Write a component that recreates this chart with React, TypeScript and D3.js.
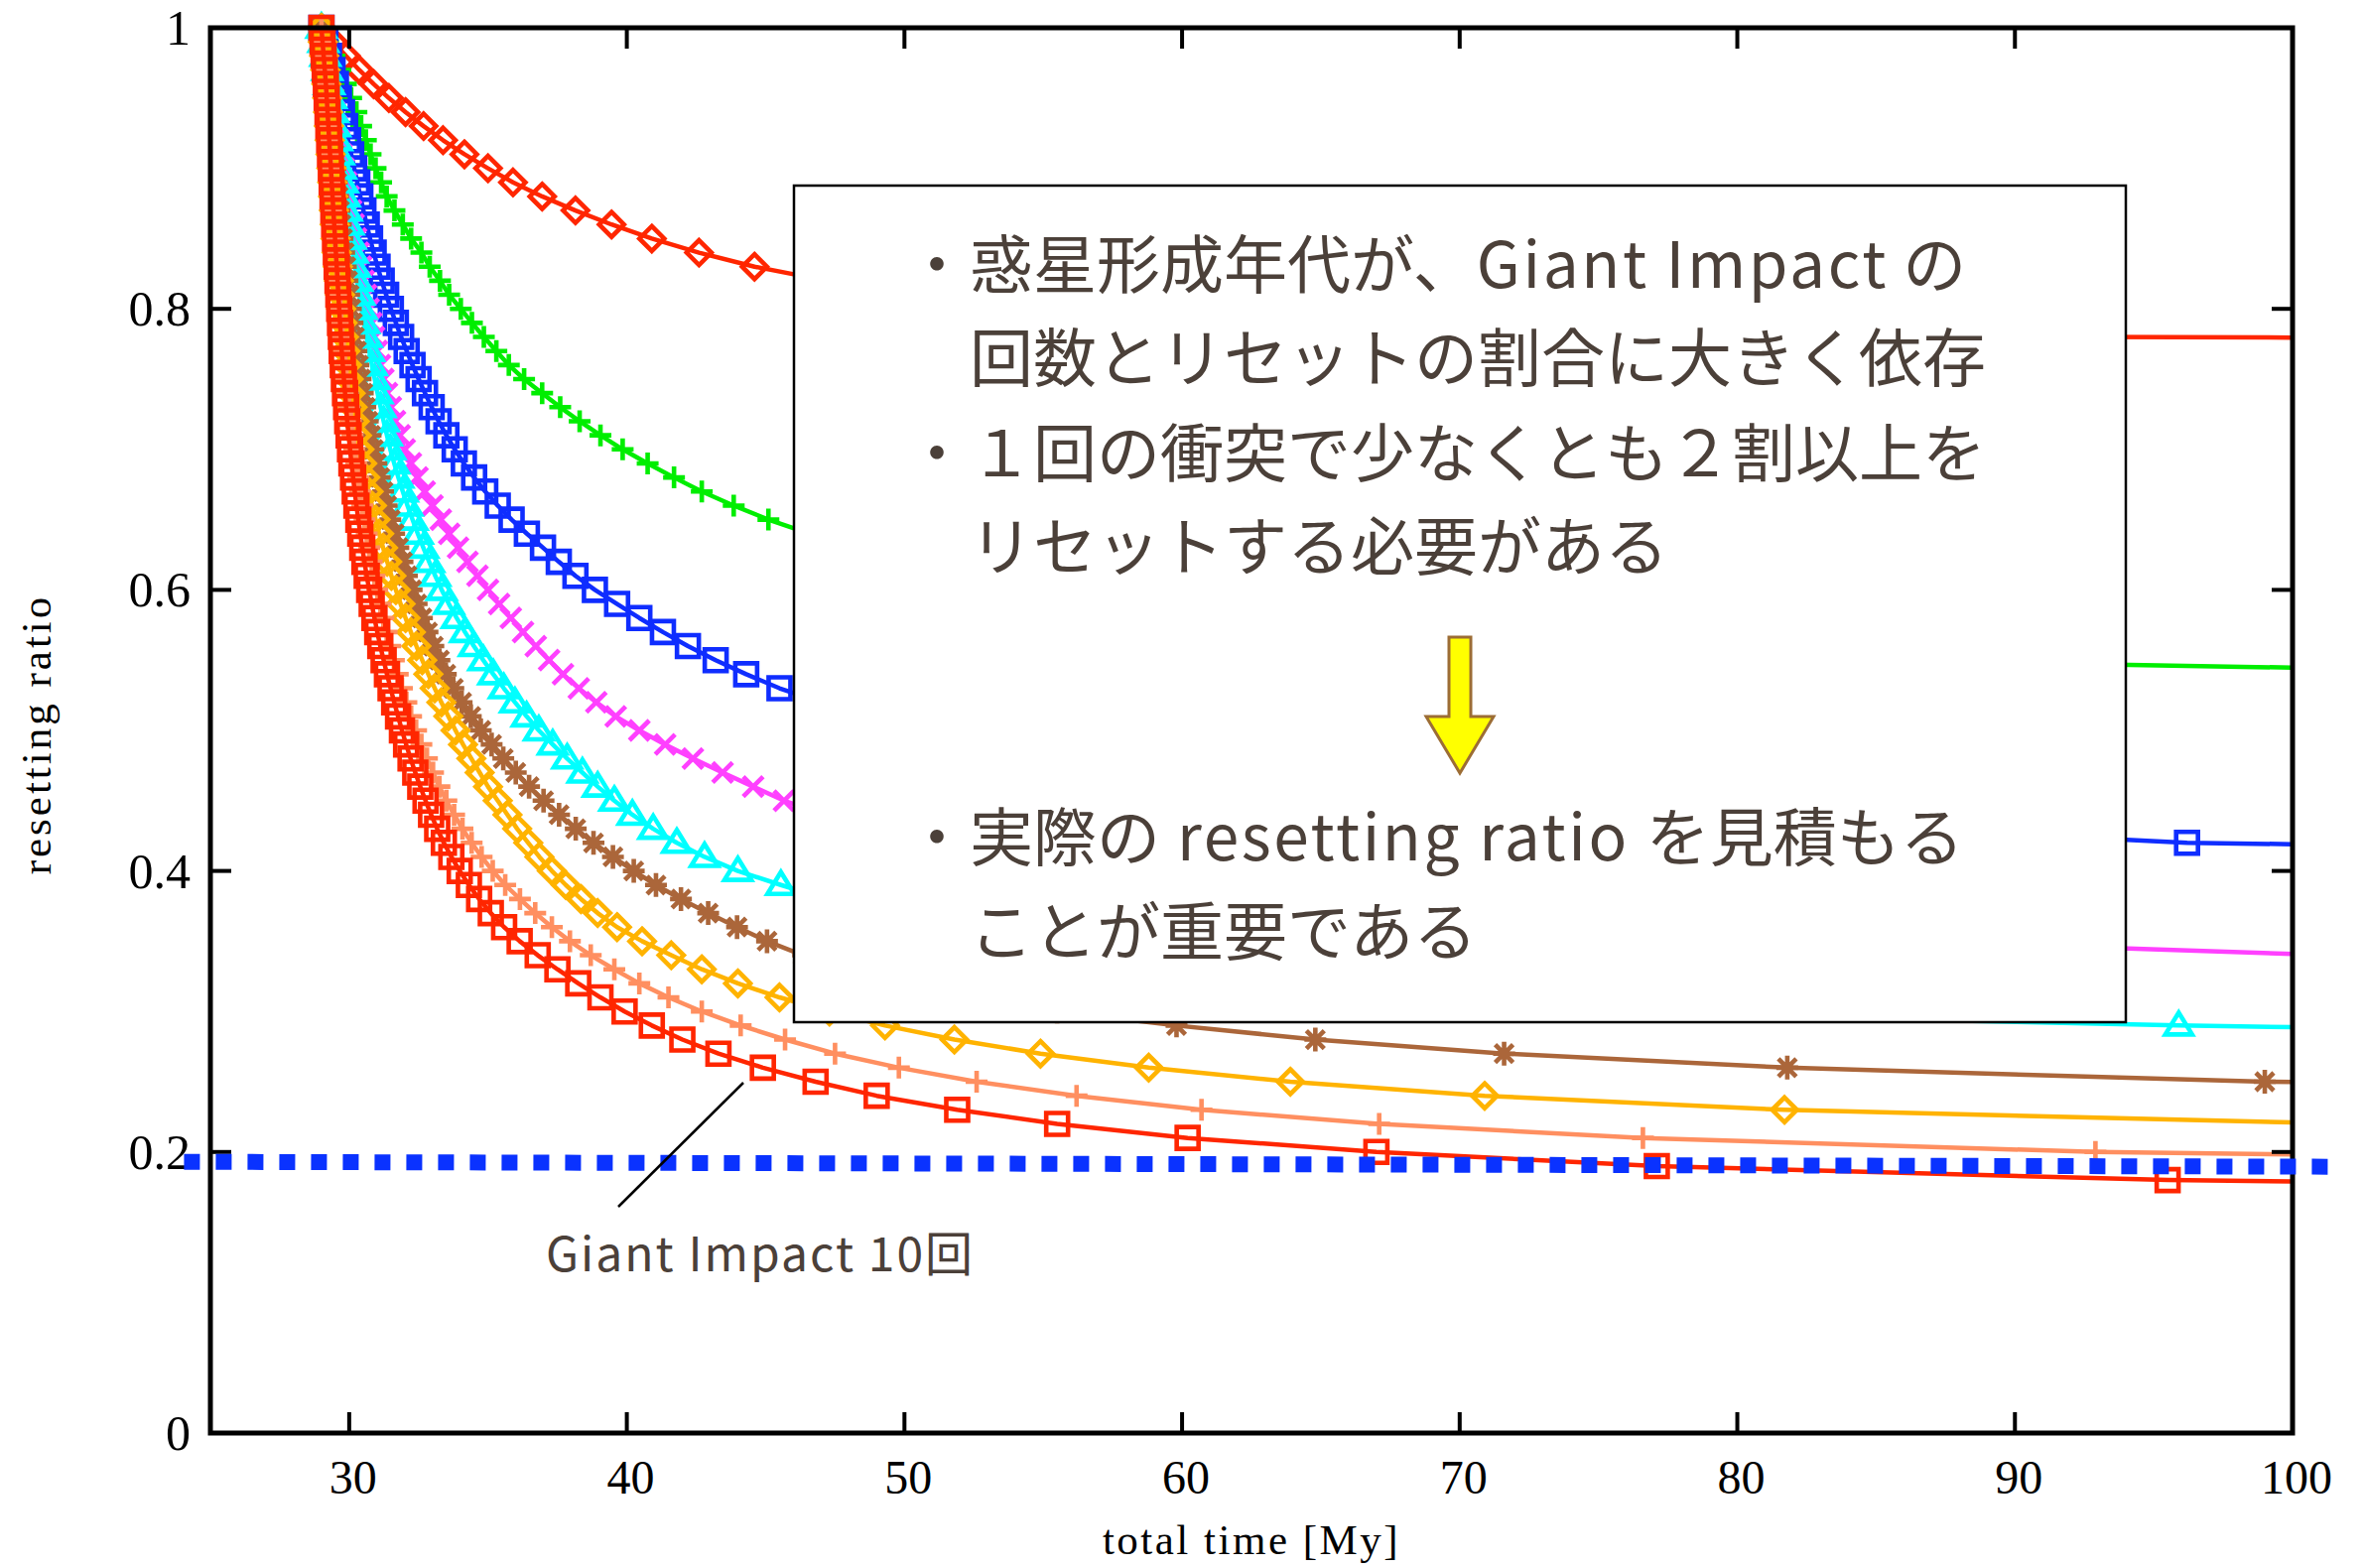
import React from "react";
import * as d3 from "d3";

// ---------- data ----------
const xTicks = [30, 40, 50, 60, 70, 80, 90, 100];
const yTicks = [0, 0.2, 0.4, 0.6, 0.8, 1];
const yTickLabels = ["0", "0.2", "0.4", "0.6", "0.8", "1"];

const levels = [
  1.0, 0.99, 0.98, 0.97, 0.96, 0.95, 0.94, 0.93, 0.92, 0.91,
  0.9, 0.89, 0.88, 0.87, 0.86, 0.85, 0.84, 0.83, 0.82, 0.81,
  0.8, 0.79, 0.78, 0.77, 0.76, 0.75, 0.74, 0.73, 0.72, 0.71,
  0.7, 0.69, 0.68, 0.67, 0.66, 0.65, 0.64, 0.63, 0.62, 0.61,
  0.6, 0.59, 0.58, 0.57, 0.56, 0.55, 0.54, 0.53, 0.52, 0.51,
  0.5, 0.49, 0.48, 0.47, 0.46, 0.45, 0.44, 0.43, 0.42, 0.41,
  0.4, 0.39, 0.38, 0.37, 0.36, 0.35, 0.34, 0.33, 0.32, 0.31,
  0.3, 0.29, 0.28, 0.27, 0.26, 0.25, 0.24, 0.23, 0.22, 0.21,
  0.2, 0.19, 0.18, 0.17,
];

const redDiamondX = [
  29.0, 29.43, 29.88, 30.36, 30.88, 31.43, 32.03, 32.68, 33.38, 34.15,
  35.0, 35.9, 36.95, 38.15, 39.45, 40.9, 42.6, 44.6, 47.2, 50.8,
  56.0, 65.0, 92.5, 250,
];
const greenPlusX = [
  29.0, 29.24, 29.47, 29.68, 29.88, 30.07, 30.26, 30.43, 30.6, 30.77,
  30.95, 31.15, 31.35, 31.63, 31.93, 32.23, 32.6, 32.9, 33.27, 33.6,
  34.02, 34.42, 34.85, 35.3, 35.75, 36.3, 36.95, 37.6, 38.3, 39.05,
  39.85, 40.75, 41.7, 42.7, 43.85, 45.1, 46.6, 48.3, 50.3, 52.7,
  55.5, 59.0, 63.3, 68.5, 75.3, 84.0, 114,
];
const blueSquareX = [
  29.0, 29.14, 29.27, 29.4, 29.52, 29.63, 29.74, 29.85, 29.96, 30.07,
  30.18, 30.29, 30.4, 30.51, 30.63, 30.75, 30.88, 31.02, 31.17, 31.33,
  31.5, 31.68, 31.87, 32.07, 32.28, 32.5, 32.73, 32.97, 33.22, 33.5,
  33.8, 34.13, 34.5, 34.9, 35.35, 35.85, 36.4, 36.98, 37.55, 38.15,
  38.85, 39.65, 40.45, 41.3, 42.2, 43.2, 44.3, 45.5, 47.0, 48.8,
  50.8, 53.2, 56.1, 59.7, 64.2, 69.8, 77.0, 86.0, 96.2, 135,
];
const magentaCrossX = [
  29.0, 29.08, 29.16, 29.24, 29.32, 29.4, 29.48, 29.56, 29.64, 29.72,
  29.8, 29.89, 29.98, 30.07, 30.16, 30.25, 30.34, 30.43, 30.52, 30.61,
  30.7, 30.8, 30.9, 31.0, 31.11, 31.23, 31.36, 31.5, 31.65, 31.82,
  32.0, 32.22, 32.46, 32.72, 33.0, 33.3, 33.6, 33.92, 34.26, 34.62,
  35.0, 35.4, 35.82, 36.26, 36.72, 37.2, 37.7, 38.27, 38.9, 39.6,
  40.45, 41.38, 42.38, 43.45, 44.55, 45.66, 47.2, 49.0, 51.1, 53.6,
  56.5, 60.0, 64.3, 69.5, 76.5, 86.0, 101.5,
];
const cyanTriangleX = [
  29.0, 29.07, 29.14, 29.21, 29.28, 29.35, 29.42, 29.49, 29.56, 29.63,
  29.7, 29.77, 29.84, 29.91, 29.98, 30.05, 30.13, 30.21, 30.29, 30.37,
  30.45, 30.54, 30.63, 30.72, 30.82, 30.92, 31.02, 31.13, 31.24, 31.36,
  31.48, 31.62, 31.77, 31.93, 32.1, 32.28, 32.47, 32.67, 32.88, 33.1,
  33.33, 33.59, 33.87, 34.17, 34.49, 34.83, 35.19, 35.57, 35.97, 36.39,
  36.83, 37.33, 37.85, 38.4, 38.95, 39.55, 40.2, 40.95, 41.8, 42.8,
  44.0, 45.55, 47.2, 49.0, 51.0, 53.3, 56.0, 59.2, 63.0, 67.5,
  73.0, 95.9, 130,
];
const brownStarX = [
  29.0, 29.05, 29.1, 29.15, 29.2, 29.25, 29.3, 29.35, 29.4, 29.45,
  29.5, 29.55, 29.6, 29.65, 29.7, 29.76, 29.82, 29.88, 29.94, 30.0,
  30.06, 30.12, 30.19, 30.26, 30.33, 30.41, 30.49, 30.58, 30.67, 30.77,
  30.87, 30.98, 31.1, 31.22, 31.35, 31.48, 31.62, 31.77, 31.92, 32.08,
  32.25, 32.43, 32.62, 32.82, 33.03, 33.25, 33.48, 33.75, 34.05, 34.38,
  34.74, 35.13, 35.55, 36.0, 36.48, 37.0, 37.56, 38.16, 38.8, 39.5,
  40.25, 41.05, 41.95, 42.93, 43.97, 45.05, 46.35, 48.0, 50.0, 52.4,
  55.5, 59.8, 64.8, 71.6, 81.8, 99.0, 140,
];
const orangeDiamondX = [
  29.0, 29.05, 29.1, 29.14, 29.18, 29.21, 29.24, 29.27, 29.3, 29.33,
  29.36, 29.39, 29.42, 29.45, 29.48, 29.51, 29.55, 29.59, 29.63, 29.67,
  29.71, 29.76, 29.81, 29.86, 29.92, 29.98, 30.05, 30.12, 30.2, 30.28,
  30.37, 30.47, 30.58, 30.7, 30.82, 30.95, 31.08, 31.22, 31.37, 31.52,
  31.68, 31.85, 32.03, 32.22, 32.42, 32.63, 32.85, 33.08, 33.32, 33.57,
  33.83, 34.1, 34.4, 34.7, 35.0, 35.35, 35.7, 36.05, 36.45, 36.85,
  37.3, 37.8, 38.35, 38.95, 39.65, 40.55, 41.6, 42.7, 44.0, 45.5,
  47.3, 49.3, 51.8, 54.9, 58.8, 63.9, 70.9, 81.7, 102,
];
const salmonPlusX = [
  29.0, 29.04, 29.08, 29.12, 29.16, 29.19, 29.22, 29.25, 29.28, 29.31,
  29.34, 29.37, 29.4, 29.43, 29.46, 29.49, 29.52, 29.55, 29.59, 29.63,
  29.67, 29.71, 29.75, 29.8, 29.85, 29.9, 29.95, 30.0, 30.06, 30.12,
  30.18, 30.25, 30.32, 30.39, 30.47, 30.55, 30.63, 30.72, 30.81, 30.91,
  31.01, 31.12, 31.23, 31.35, 31.48, 31.61, 31.75, 31.9, 32.06, 32.23,
  32.41, 32.6, 32.8, 33.02, 33.25, 33.5, 33.78, 34.08, 34.41, 34.77,
  35.17, 35.62, 36.15, 36.7, 37.3, 37.95, 38.7, 39.55, 40.45, 41.5,
  42.7, 44.1, 45.7, 47.5, 49.8, 52.6, 56.2, 60.7, 67.1, 76.6,
  92.9, 135,
];
const redSquareX = [
  29.0, 29.04, 29.08, 29.12, 29.16, 29.19, 29.22, 29.25, 29.28, 29.31,
  29.34, 29.37, 29.4, 29.43, 29.46, 29.49, 29.52, 29.55, 29.58, 29.61,
  29.64, 29.67, 29.7, 29.73, 29.77, 29.81, 29.85, 29.89, 29.93, 29.98,
  30.03, 30.08, 30.14, 30.2, 30.26, 30.33, 30.4, 30.47, 30.55, 30.63,
  30.72, 30.81, 30.91, 31.01, 31.12, 31.24, 31.36, 31.49, 31.62, 31.76,
  31.9, 32.05, 32.21, 32.38, 32.56, 32.75, 32.95, 33.17, 33.41, 33.68,
  33.98, 34.31, 34.68, 35.1, 35.58, 36.14, 36.79, 37.5, 38.25, 39.05,
  39.92, 40.9, 42.0, 43.3, 44.9, 46.8, 49.0, 51.9, 55.5, 60.2,
  67.0, 77.1, 95.5, 140,
];

const thresholdX = [24.05, 101.37];
const thresholdY = [0.193, 0.1895];

// box text: [cjk-or-latin segments] per line
const boxLines1: string[][] = [
  ["惑星形成年代が、", "Giant Impact", " の"],
  ["回数とリセットの割合に大きく依存"],
  ["１回の衝突で少なくとも２割以上を"],
  ["リセットする必要がある"],
];
const boxLines2: string[][] = [
  ["実際の", " resetting ratio ", "を見積もる"],
  ["ことが重要である"],
];
const annotationText = "Giant Impact 10回";
const xTitle = "total time [My]";
const yTitle = "resetting ratio";

// ---------- styles ----------
type Marker = "diamond" | "plus" | "square" | "cross" | "triangle" | "star";
const seriesDefs: { xs: number[]; color: string; marker: Marker }[] = [
  { xs: redDiamondX, color: "#ff2600", marker: "diamond" },
  { xs: greenPlusX, color: "#00ee00", marker: "plus" },
  { xs: blueSquareX, color: "#0f2dff", marker: "square" },
  { xs: magentaCrossX, color: "#ff40ff", marker: "cross" },
  { xs: cyanTriangleX, color: "#00ffff", marker: "triangle" },
  { xs: brownStarX, color: "#ab663a", marker: "star" },
  { xs: orangeDiamondX, color: "#ffb300", marker: "diamond" },
  { xs: salmonPlusX, color: "#ff8f60", marker: "plus" },
  { xs: redSquareX, color: "#ff2600", marker: "square" },
];

const PL = 212, PR = 2310, PT = 28, PB = 1444;
const TEXT_COLOR = "#4b4039";
const CJK = "'Noto Sans CJK JP', 'Noto Sans', sans-serif";
const SERIF = "'Liberation Serif', 'DejaVu Serif', serif";

function markerPath(m: Marker): string {
  switch (m) {
    case "diamond":
      return "M0,-12.5L12.5,0L0,12.5L-12.5,0Z";
    case "square":
      return "M-11,-11H11V11H-11Z";
    case "plus":
      return "M-11,0H11M0,-11V11";
    case "cross":
      return "M-10,-10L10,10M-10,10L10,-10";
    case "triangle":
      return "M0,-13L13.5,9H-13.5Z";
    case "star":
      return "M-11,0H11M0,-12V12M-9,-9L9,9M-9,9L9,-9";
  }
}

function isLatin(s: string) {
  return /^[\x20-\x7e]+$/.test(s);
}

export default function App() {
  const x = d3.scaleLinear().domain([25, 100]).range([PL, PR]);
  const y = d3.scaleLinear().domain([0, 1]).range([PB, PT]);
  const line = d3
    .line<[number, number]>()
    .x((d) => x(d[0]))
    .y((d) => y(d[1]));

  const tickLen = 21;

  const boxL = 800, boxT = 187, boxR = 2142, boxB = 1030;
  const textX = 977, bulletX = 944;
  const ys1 = [262, 356, 452, 546];
  const ys2 = [839, 934];
  const bullets1 = [true, false, true, false];
  const bullets2 = [true, false];

  const thresholdPts: [number, number][] = thresholdX.map((v, i) => [v, thresholdY[i]]);

  const renderLine = (segs: string[], yy: number, bullet: boolean, key: string) => (
    <g key={key}>
      {bullet && (
        <text x={bulletX} y={yy} fontFamily={CJK} fontSize={64} fill={TEXT_COLOR} textAnchor="middle" dominantBaseline="central">
          ・
        </text>
      )}
      <text x={textX} y={yy} fontFamily={CJK} fontSize={64} fill={TEXT_COLOR} dominantBaseline="central">
        {segs.map((s, j) => (
          <tspan key={j} letterSpacing={isLatin(s) ? 2.6 : 0}>
            {s}
          </tspan>
        ))}
      </text>
    </g>
  );

  return (
    <svg
      width={2383}
      height={1580}
      style={{ position: "absolute", left: 0, top: 0, background: "#fff" }}
    >
      <defs>
        <clipPath id="plotclip">
          <rect x={PL} y={PT - 20} width={PR - PL} height={PB - PT + 20} />
        </clipPath>
      </defs>
      <rect x={0} y={0} width={2383} height={1580} fill="#fff" />

      {/* series */}
      <g clipPath="url(#plotclip)">
        {seriesDefs.map((s, si) => {
          const pts: [number, number][] = s.xs.map((v, i) => [v, levels[i]]);
          return (
            <g key={si}>
              <path d={line(pts) || ""} fill="none" stroke={s.color} strokeWidth={4.5} strokeLinejoin="round" />
              {pts
                .filter((p) => p[0] <= 100)
                .map((p, i) => (
                  <path
                    key={i}
                    d={markerPath(s.marker)}
                    transform={`translate(${x(p[0])},${y(p[1])})`}
                    fill="none"
                    stroke={s.color}
                    strokeWidth={4.6}
                  />
                ))}
            </g>
          );
        })}
      </g>

      {/* frame and ticks */}
      <rect x={PL} y={PT} width={PR - PL} height={PB - PT} fill="none" stroke="#000" strokeWidth={5} />
      {xTicks.map((t) => (
        <g key={"xt" + t}>
          <line x1={x(t)} x2={x(t)} y1={PB} y2={PB - tickLen} stroke="#000" strokeWidth={4} />
          <line x1={x(t)} x2={x(t)} y1={PT} y2={PT + tickLen} stroke="#000" strokeWidth={4} />
          <text
            x={x(t) + 4}
            y={PB + 44}
            fontFamily={SERIF}
            fontSize={48}
            textAnchor="middle"
            dominantBaseline="central"
            fill="#000"
          >
            {t}
          </text>
        </g>
      ))}
      {yTicks.map((t, i) => (
        <g key={"yt" + t}>
          <line x1={PL} x2={PL + tickLen} y1={y(t)} y2={y(t)} stroke="#000" strokeWidth={4} />
          <line x1={PR} x2={PR - tickLen} y1={y(t)} y2={y(t)} stroke="#000" strokeWidth={4} />
          <text
            x={PL - 20}
            y={y(t)}
            fontFamily={SERIF}
            fontSize={50}
            textAnchor="end"
            dominantBaseline="central"
            fill="#000"
          >
            {yTickLabels[i]}
          </text>
        </g>
      ))}

      {/* axis titles */}
      <text
        x={(PL + PR) / 2}
        y={1551}
        fontFamily={SERIF}
        fontSize={43}
        letterSpacing={2.5}
        textAnchor="middle"
        dominantBaseline="central"
      >
        {xTitle}
      </text>
      <text
        transform={`translate(36,740) rotate(-90)`}
        fontFamily={SERIF}
        fontSize={43}
        letterSpacing={3}
        textAnchor="middle"
        dominantBaseline="central"
      >
        {yTitle}
      </text>

      {/* threshold dotted line */}
      <path
        d={line(thresholdPts) || ""}
        fill="none"
        stroke="#0a32ff"
        strokeWidth={16}
        strokeDasharray="16 16"
      />

      {/* annotation */}
      <line x1={623} y1={1216} x2={749} y2={1091} stroke="#000" strokeWidth={2.5} />
      <text x={550} y={1260} fontFamily={CJK} fontSize={48} fill={TEXT_COLOR} letterSpacing={2} dominantBaseline="central">
        {annotationText}
      </text>

      {/* text box */}
      <rect x={boxL} y={boxT} width={boxR - boxL} height={boxB - boxT} fill="#fff" stroke="#000" strokeWidth={2.5} />
      {boxLines1.map((segs, i) => renderLine(segs, ys1[i], bullets1[i], "b1" + i))}
      {boxLines2.map((segs, i) => renderLine(segs, ys2[i], bullets2[i], "b2" + i))}
      <polygon
        points="1460,642 1482,642 1482,722 1505,722 1471,779 1437,722 1460,722"
        fill="#ffff00"
        stroke="#9c6d35"
        strokeWidth={3}
      />
    </svg>
  );
}
